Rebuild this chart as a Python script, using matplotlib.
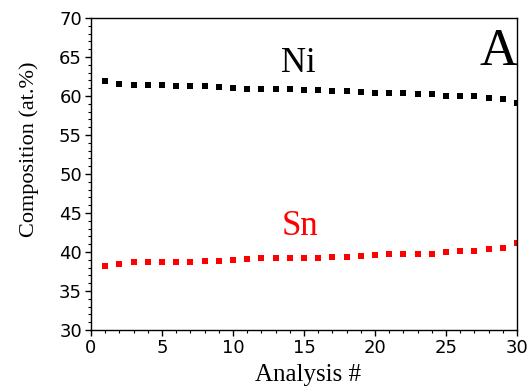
import numpy as np
import matplotlib.pyplot as plt
from matplotlib.ticker import MultipleLocator

# composition along the line scan
analysis = np.arange(1, 31)
ni = [61.9, 61.6, 61.45, 61.4, 61.37, 61.3, 61.3, 61.28, 61.15, 61.03,
      60.9, 60.85, 60.85, 60.85, 60.8, 60.77, 60.7, 60.64, 60.51, 60.43,
      60.34, 60.34, 60.3, 60.3, 60.04, 60.0, 59.96, 59.74, 59.6, 59.06]
sn = [38.2, 38.46, 38.68, 38.68, 38.72, 38.76, 38.76, 38.8, 38.89, 38.97,
      39.06, 39.19, 39.19, 39.19, 39.23, 39.27, 39.32, 39.36, 39.49, 39.66,
      39.7, 39.7, 39.7, 39.74, 40.04, 40.09, 40.13, 40.34, 40.47, 41.2]

serif = 'Liberation Serif'
tickfont = dict(family='DejaVu Sans', size=13)

fig = plt.figure(figsize=(5.32, 3.92), dpi=100)
ax = fig.add_axes([0.171, 0.158, 0.801, 0.796])

ax.plot(analysis, ni, 's', color='k', markersize=4, markeredgewidth=0)
ax.plot(analysis, sn, 's', color='#ff0000', markersize=4, markeredgewidth=0)

ax.set_xlim(0, 30)
ax.set_ylim(30, 70)
ax.xaxis.set_major_locator(MultipleLocator(5))
ax.xaxis.set_minor_locator(MultipleLocator(1))
ax.yaxis.set_major_locator(MultipleLocator(5))
ax.yaxis.set_minor_locator(MultipleLocator(1))
ax.tick_params(which='both', direction='out', top=False, right=False)
ax.tick_params(which='major', length=4.5, width=1)
ax.tick_params(which='minor', length=2.5, width=0.8)
ax.tick_params(axis='x', pad=2)
ax.tick_params(axis='y', pad=2)
for lab in ax.get_xticklabels() + ax.get_yticklabels():
    lab.set_fontproperties(tickfont)
for s in ax.spines.values():
    s.set_linewidth(1)

ax.set_xlabel('Analysis #', family=serif, fontsize=18, va='baseline')
ax.xaxis.set_label_coords(0.51, -0.163)
ax.set_ylabel('Composition (at.%)', family=serif, fontsize=16, va='center')
ax.yaxis.set_label_coords(-0.146, 0.58)

ax.text(14.6, 63.1, 'Ni', family=serif, fontsize=25, color='k', ha='center', va='baseline')
ax.text(14.7, 42.2, 'Sn', family=serif, fontsize=25, color='#ff0000', ha='center', va='baseline')
ax.text(28.7, 64.0, 'A', family=serif, fontsize=38, color='k', ha='center', va='baseline')

fig.savefig('out.png', dpi=100)
